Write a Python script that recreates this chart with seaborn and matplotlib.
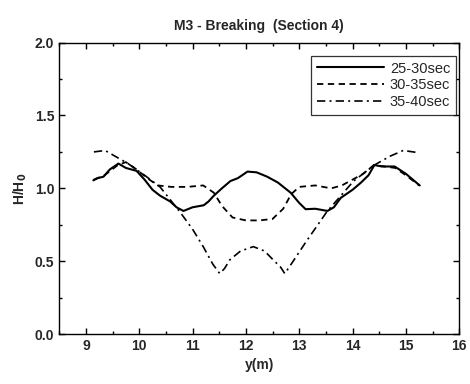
import numpy as np
import pandas as pd
import matplotlib
matplotlib.use("Agg")
import matplotlib.pyplot as plt
import seaborn as sns
from matplotlib.ticker import MultipleLocator

x_2530 = [9.14, 9.22, 9.33, 9.45, 9.61, 9.75, 9.95, 10.1, 10.25, 10.39, 10.58, 10.7, 10.83, 11.0,
          11.21, 11.3, 11.40, 11.55, 11.71, 11.85, 12.03, 12.2, 12.40, 12.6, 12.84, 13.0, 13.12,
          13.3, 13.53, 13.65, 13.78, 14.0, 14.16, 14.3, 14.41, 14.55, 14.79, 15.0, 15.26]
y_2530 = [1.055, 1.07, 1.08, 1.13, 1.17, 1.14, 1.12, 1.06, 0.99, 0.95, 0.91, 0.87, 0.845, 0.87,
          0.884, 0.91, 0.95, 1.0, 1.05, 1.07, 1.115, 1.11, 1.08, 1.04, 0.97, 0.90, 0.857,
          0.86, 0.845, 0.87, 0.935, 0.99, 1.04, 1.09, 1.16, 1.15, 1.15, 1.10, 1.02]

x_3035 = [9.15, 9.35, 9.6, 9.75, 9.95, 10.15, 10.35, 10.6, 10.9, 11.2, 11.4, 11.55, 11.75, 12.0,
          12.25, 12.5, 12.7, 12.85, 13.0, 13.3, 13.6, 13.8, 14.0, 14.2, 14.4, 14.6, 14.8, 15.0, 15.25]
y_3035 = [1.06, 1.09, 1.16, 1.18, 1.13, 1.07, 1.02, 1.01, 1.01, 1.02, 0.97, 0.88, 0.80, 0.78,
          0.78, 0.79, 0.86, 0.96, 1.01, 1.02, 1.00, 1.02, 1.06, 1.10, 1.16, 1.15, 1.14, 1.09, 1.02]

x_3540 = [9.15, 9.36, 9.55, 9.79, 10.1, 10.39, 10.76, 11.0, 11.2, 11.38, 11.51, 11.60, 11.70, 11.9,
          12.14, 12.35, 12.51, 12.65, 12.73, 12.85, 13.14, 13.52, 14.02, 14.41, 14.7, 14.95, 15.23]
y_3540 = [1.25, 1.26, 1.22, 1.17, 1.09, 1.01, 0.84, 0.72, 0.60, 0.48, 0.415, 0.45, 0.51, 0.57,
          0.60, 0.57, 0.51, 0.46, 0.415, 0.48, 0.64, 0.84, 1.05, 1.16, 1.22, 1.26, 1.245]

labels = ["25-30sec", "30-35sec", "35-40sec"]

sns.set_theme(style="ticks")
plt.rcParams['font.family'] = ['Liberation Sans', 'DejaVu Sans']

fig = plt.figure(figsize=(4.7, 3.84), dpi=100)
ax = fig.add_axes([0.126, 0.130, 0.851, 0.759])

sns.lineplot(x=x_2530, y=y_2530, ax=ax, color="black", lw=1.5, label=labels[0], sort=False)
sns.lineplot(x=x_3035, y=y_3035, ax=ax, color="black", lw=1.3, label=labels[1], sort=False)
sns.lineplot(x=x_3540, y=y_3540, ax=ax, color="black", lw=1.2, label=labels[2], sort=False)
lines = ax.get_lines()
lines[1].set_dashes([3.5, 2.5])
lines[2].set_dashes([5, 2.5, 1.2, 2.5])

ax.set_xlim(8.5, 16)
ax.set_ylim(0, 2.0)
ax.xaxis.set_major_locator(MultipleLocator(1))
ax.xaxis.set_minor_locator(MultipleLocator(0.5))
ax.yaxis.set_major_locator(MultipleLocator(0.5))
ax.yaxis.set_minor_locator(MultipleLocator(0.25))
ax.tick_params(which="both", direction="in", top=True, right=True, color="black")
ax.tick_params(which="major", length=4, width=1)
ax.tick_params(which="minor", length=2.5, width=1)
ax.set_xticks([9, 10, 11, 12, 13, 14, 15, 16])
ax.set_xticklabels(["9", "10", "11", "12", "13", "14", "15", "16"], fontweight="bold", fontsize=10)
ax.set_yticks([0.0, 0.5, 1.0, 1.5, 2.0])
ax.set_yticklabels(["0.0", "0.5", "1.0", "1.5", "2.0"], fontweight="bold", fontsize=10)
for s in ax.spines.values():
    s.set_color("black")
    s.set_linewidth(1.0)

ax.set_xlabel("y(m)", fontweight="bold", fontsize=10)
ax.set_ylabel("H/H$_\\mathbf{0}$", fontweight="bold", fontsize=10)
ax.set_title("M3 - Breaking  (Section 4)", fontweight="bold", fontsize=10, pad=9)

leg = ax.legend(loc="upper right", frameon=True, fancybox=False, edgecolor="black",
                fontsize=10.5, handlelength=4.6, handletextpad=0.4, borderpad=0.4,
                labelspacing=0.2, borderaxespad=0, bbox_to_anchor=(0.992, 0.955))
leg.get_frame().set_linewidth(0.9)

fig.savefig("out.png", dpi=100)
